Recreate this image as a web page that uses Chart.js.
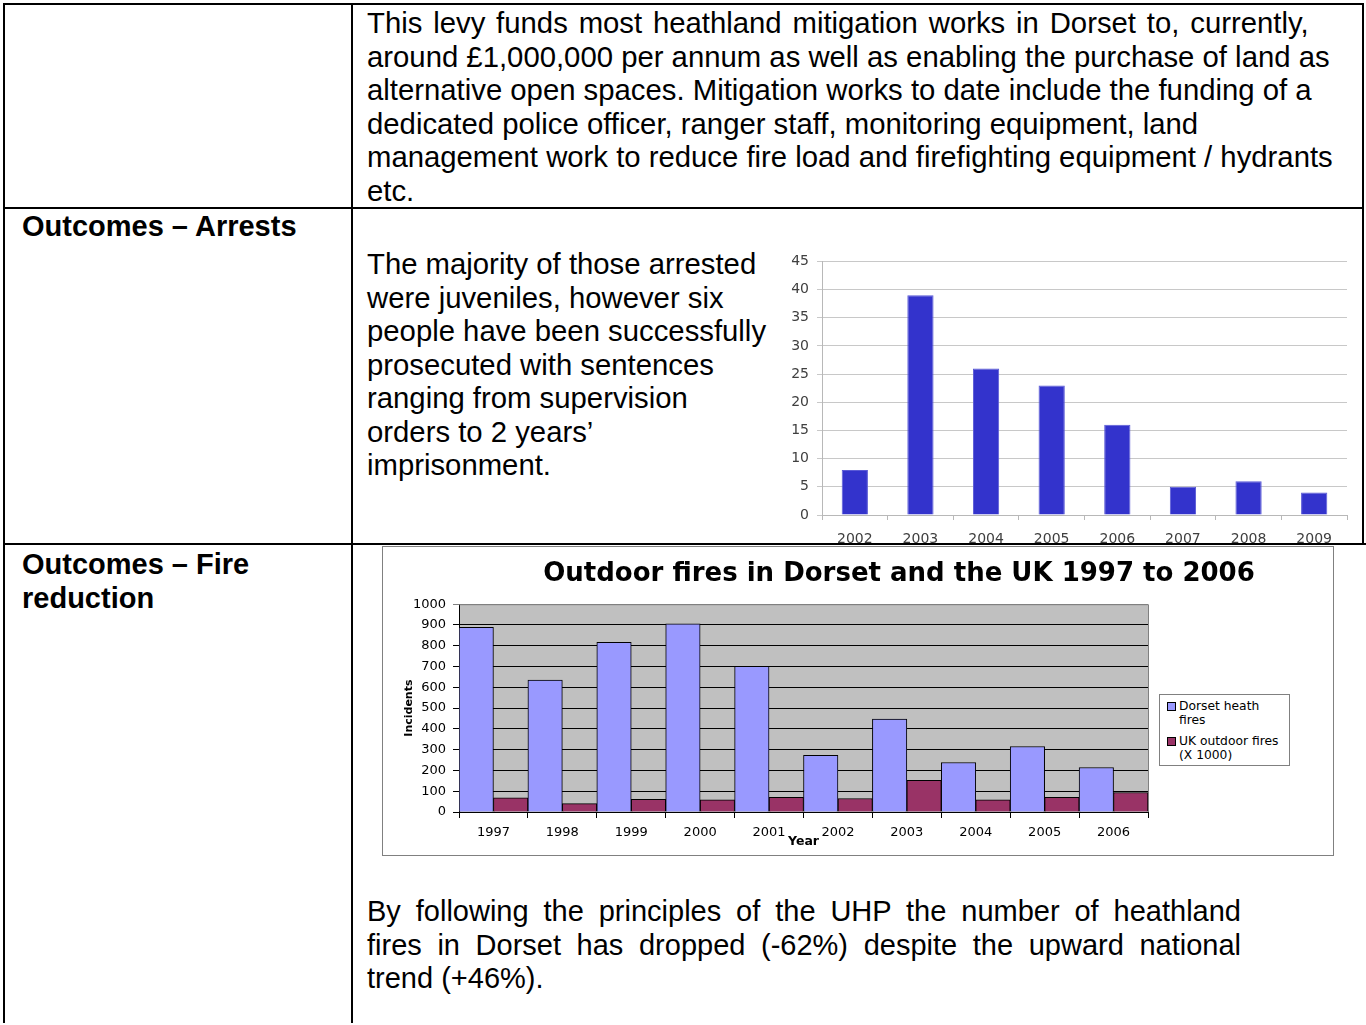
<!DOCTYPE html>
<html>
<head>
<meta charset="utf-8">
<script src="https://cdn.jsdelivr.net/npm/chart.js@4.4.1/dist/chart.umd.min.js"></script>
<style>
  html, body { margin:0; padding:0; background:#fff; }
  body { width:1366px; height:1025px; overflow:hidden; position:relative; font-family:"Liberation Sans", Arial, sans-serif; color:#000; }
  .ln { position:absolute; background:#000; z-index:10; }
  .txt { position:absolute; font-size:29.3px; line-height:33.5px; white-space:nowrap; }
  .hdr { position:absolute; font-size:29px; line-height:33.5px; font-weight:bold; white-space:nowrap; }
  .narrow { position:absolute; left:367px; width:874px; font-size:29px; line-height:33.5px; }
  .narrow div { text-align:justify; text-align-last:justify; white-space:nowrap; }
  .narrow div.last { text-align-last:left; }
  .clip { position:absolute; overflow:hidden; }
  .clip canvas { position:absolute; left:0; top:0; }
  #frame2 { position:absolute; left:382px; top:546px; width:950px; height:308px; border:1px solid #808080; z-index:5; pointer-events:none; }
  #legend2 { position:absolute; left:1159px; top:694px; width:129px; height:70px; border:1px solid #808080; background:#fff; z-index:6;
             font-family:"DejaVu Sans", sans-serif; font-size:12.3px; line-height:13.5px; color:#000; }
  #legend2 .item { position:absolute; left:19px; white-space:nowrap; }
  #legend2 .sw { position:absolute; left:-12px; top:2px; width:7px; height:7px; border:1px solid #000; }
</style>
</head>
<body>
<!-- table lines -->
<div class="ln" style="left:3px; top:3px; width:1361px; height:2px;"></div>
<div class="ln" style="left:3px; top:3px; width:2px; height:1020px;"></div>
<div class="ln" style="left:351px; top:3px; width:2px; height:1020px;"></div>
<div class="ln" style="left:1362px; top:3px; width:2px; height:542px;"></div>
<div class="ln" style="left:3px; top:207px; width:1361px; height:2px;"></div>
<div class="ln" style="left:3px; top:543px; width:1363px; height:2px;"></div>

<div class="txt" style="left:367px; top:6px;"><span style="word-spacing:2.7px;">This levy funds most heathland mitigation works in Dorset to, currently,</span><br>around £1,000,000 per annum as well as enabling the purchase of land as<br>alternative open spaces. Mitigation works to date include the funding of a<br>dedicated police officer, ranger staff, monitoring equipment, land<br>management work to reduce fire load and firefighting equipment / hydrants<br>etc.</div>

<div class="hdr" style="left:22px; top:210px;">Outcomes – Arrests</div>
<div class="txt" style="left:367px; top:247px;">The majority of those arrested<br>were juveniles, however six<br>people have been successfully<br>prosecuted with sentences<br>ranging from supervision<br>orders to 2 years’<br>imprisonment.</div>

<div class="hdr" style="left:22px; top:548px;">Outcomes – Fire<br>reduction</div>

<div class="narrow" style="top:895px;">
  <div>By following the principles of the UHP the number of heathland</div>
  <div>fires in Dorset has dropped (-62%) despite the upward national</div>
  <div class="last">trend (+46%).</div>
</div>

<!-- Arrests chart -->
<div class="clip" style="left:770px; top:245px; width:596px; height:299px;">
  <canvas id="arrests" width="596" height="310"></canvas>
</div>

<!-- Fire chart -->
<div id="frame2"></div>
<div class="clip" style="left:383px; top:547px; width:950px; height:308px;">
  <canvas id="fires" width="1032" height="308"></canvas>
</div>
<div id="legend2"></div>

<script>
// ---- Data ----
const arrestYears = ['2002','2003','2004','2005','2006','2007','2008','2009'];
const arrestCounts = [8, 39, 26, 23, 16, 5, 6, 4];
const arrestTicks = [0, 5, 10, 15, 20, 25, 30, 35, 40, 45];

const fireYears = ['1997','1998','1999','2000','2001','2002','2003','2004','2005','2006'];
const dorsetHeathFires = [889, 635, 817, 905, 701, 273, 447, 238, 315, 214];
const ukOutdoorFiresX1000 = [68, 40, 61, 58, 71, 65, 153, 58, 71, 94];
const fireSeriesLabels = [['Dorset heath', 'fires'], ['UK outdoor fires', '(X 1000)']];
const fireTitle = 'Outdoor fires in Dorset and the UK 1997 to 2006';
const fireYTitle = 'Incidents';
const fireXTitle = 'Year';

Chart.defaults.animation = false;

// ---- Arrests chart ----
new Chart(document.getElementById('arrests'), {
  type: 'bar',
  data: {
    labels: arrestYears,
    datasets: [{
      label: 'Arrests',
      data: arrestCounts,
      backgroundColor: '#3333cc',
      borderColor: '#5a5ad6',
      borderWidth: 1,
      barPercentage: 0.4,
      categoryPercentage: 1.0
    }]
  },
  options: {
    responsive: false,
    animation: false,
    layout: { padding: { top: 14, right: 19, bottom: 0, left: 0 } },
    plugins: { legend: { display: false }, tooltip: { enabled: false } },
    scales: {
      x: {
        offset: true,
        grid: { drawOnChartArea: false, tickLength: 5, color: '#b8b8b8', offset: true },
        border: { color: '#b8b8b8' },
        ticks: { font: { family: 'DejaVu Sans', size: 14 }, color: '#404040', padding: 11, maxRotation: 0 },
        afterFit: s => { s.height = 40; }
      },
      y: {
        min: 0, max: 45,
        afterBuildTicks: s => { s.ticks = arrestTicks.map(v => ({ value: v })); },
        grid: { color: '#c8c8c8', tickLength: 5 },
        border: { color: '#b8b8b8' },
        ticks: { font: { family: 'DejaVu Sans', size: 14 }, color: '#404040', padding: 8 },
        afterFit: s => { s.width = 52; }
      }
    }
  }
});

// ---- Fires chart ----
const plotBg = {
  id: 'plotBg',
  beforeDraw(chart) {
    const a = chart.chartArea, c = chart.ctx;
    c.save(); c.fillStyle = '#c0c0c0'; c.fillRect(a.left, a.top, a.right - a.left, a.bottom - a.top); c.restore();
  },
  afterDraw(chart) {
    const a = chart.chartArea, c = chart.ctx;
    c.save(); c.strokeStyle = '#808080'; c.lineWidth = 1;
    c.beginPath();
    c.moveTo(a.left, a.top + 0.5); c.lineTo(a.right + 0.5, a.top + 0.5); c.lineTo(a.right + 0.5, a.bottom);
    c.stroke(); c.restore();
  }
};

const fireColors = ['#9999ff', '#993366'];
const fireChart = new Chart(document.getElementById('fires'), {
  type: 'bar',
  data: {
    labels: fireYears,
    datasets: [
      { label: fireSeriesLabels[0].join(' '), data: dorsetHeathFires, backgroundColor: fireColors[0], borderColor: '#000', borderWidth: 1, barPercentage: 1.0, categoryPercentage: 1.0 },
      { label: fireSeriesLabels[1].join(' '), data: ukOutdoorFiresX1000, backgroundColor: fireColors[1], borderColor: '#000', borderWidth: 1, barPercentage: 1.0, categoryPercentage: 1.0 }
    ]
  },
  options: {
    responsive: false,
    animation: false,
    layout: { padding: 0 },
    plugins: {
      legend: { display: false },
      tooltip: { enabled: false },
      title: { display: true, text: fireTitle, color: '#000', font: { family: 'DejaVu Sans', size: 26, weight: 'bold' }, padding: { top: 12, bottom: 14 } }
    },
    scales: {
      x: {
        offset: true,
        grid: { drawOnChartArea: false, tickLength: 6, color: '#000', offset: true },
        border: { color: '#000' },
        ticks: { font: { family: 'DejaVu Sans', size: 13 }, color: '#000', padding: 7, maxRotation: 0 },
        title: { display: true, text: fireXTitle, color: '#000', font: { family: 'DejaVu Sans', size: 12.5, weight: 'bold' }, padding: { top: 0, bottom: 6 } },
        afterFit: s => { s.height = 43; }
      },
      y: {
        min: 0, max: 1000,
        ticks: { stepSize: 100, font: { family: 'DejaVu Sans', size: 13 }, color: '#000', padding: 7, callback: v => String(v) },
        grid: { color: ctx => (ctx.tick && ctx.tick.value === 1000) ? '#808080' : '#000', tickLength: 6 },
        border: { color: '#000' },
        title: { display: true, text: fireYTitle, color: '#000', font: { family: 'DejaVu Sans', size: 11, weight: 'bold' }, padding: { top: 20, bottom: 0 } },
        afterFit: s => { s.width = 76; }
      },
      // empty right-hand gutter (space for the legend), keeps the title centred on the full canvas
      gutter: {
        type: 'linear', position: 'right', display: true,
        grid: { display: false }, border: { display: false }, ticks: { display: false },
        afterFit: s => { s.width = 267; }
      }
    }
  },
  plugins: [plotBg]
});

// ---- HTML legend built from the datasets ----
(function buildLegend() {
  const box = document.getElementById('legend2');
  const tops = [5, 40];
  fireChart.data.datasets.forEach((ds, i) => {
    const item = document.createElement('div');
    item.className = 'item';
    item.style.top = tops[i] + 'px';
    const sw = document.createElement('span');
    sw.className = 'sw';
    sw.style.background = ds.backgroundColor;
    item.appendChild(sw);
    fireSeriesLabels[i].forEach((t, k) => {
      if (k) item.appendChild(document.createElement('br'));
      item.appendChild(document.createTextNode(t));
    });
    box.appendChild(item);
  });
})();
</script>
</body>
</html>
